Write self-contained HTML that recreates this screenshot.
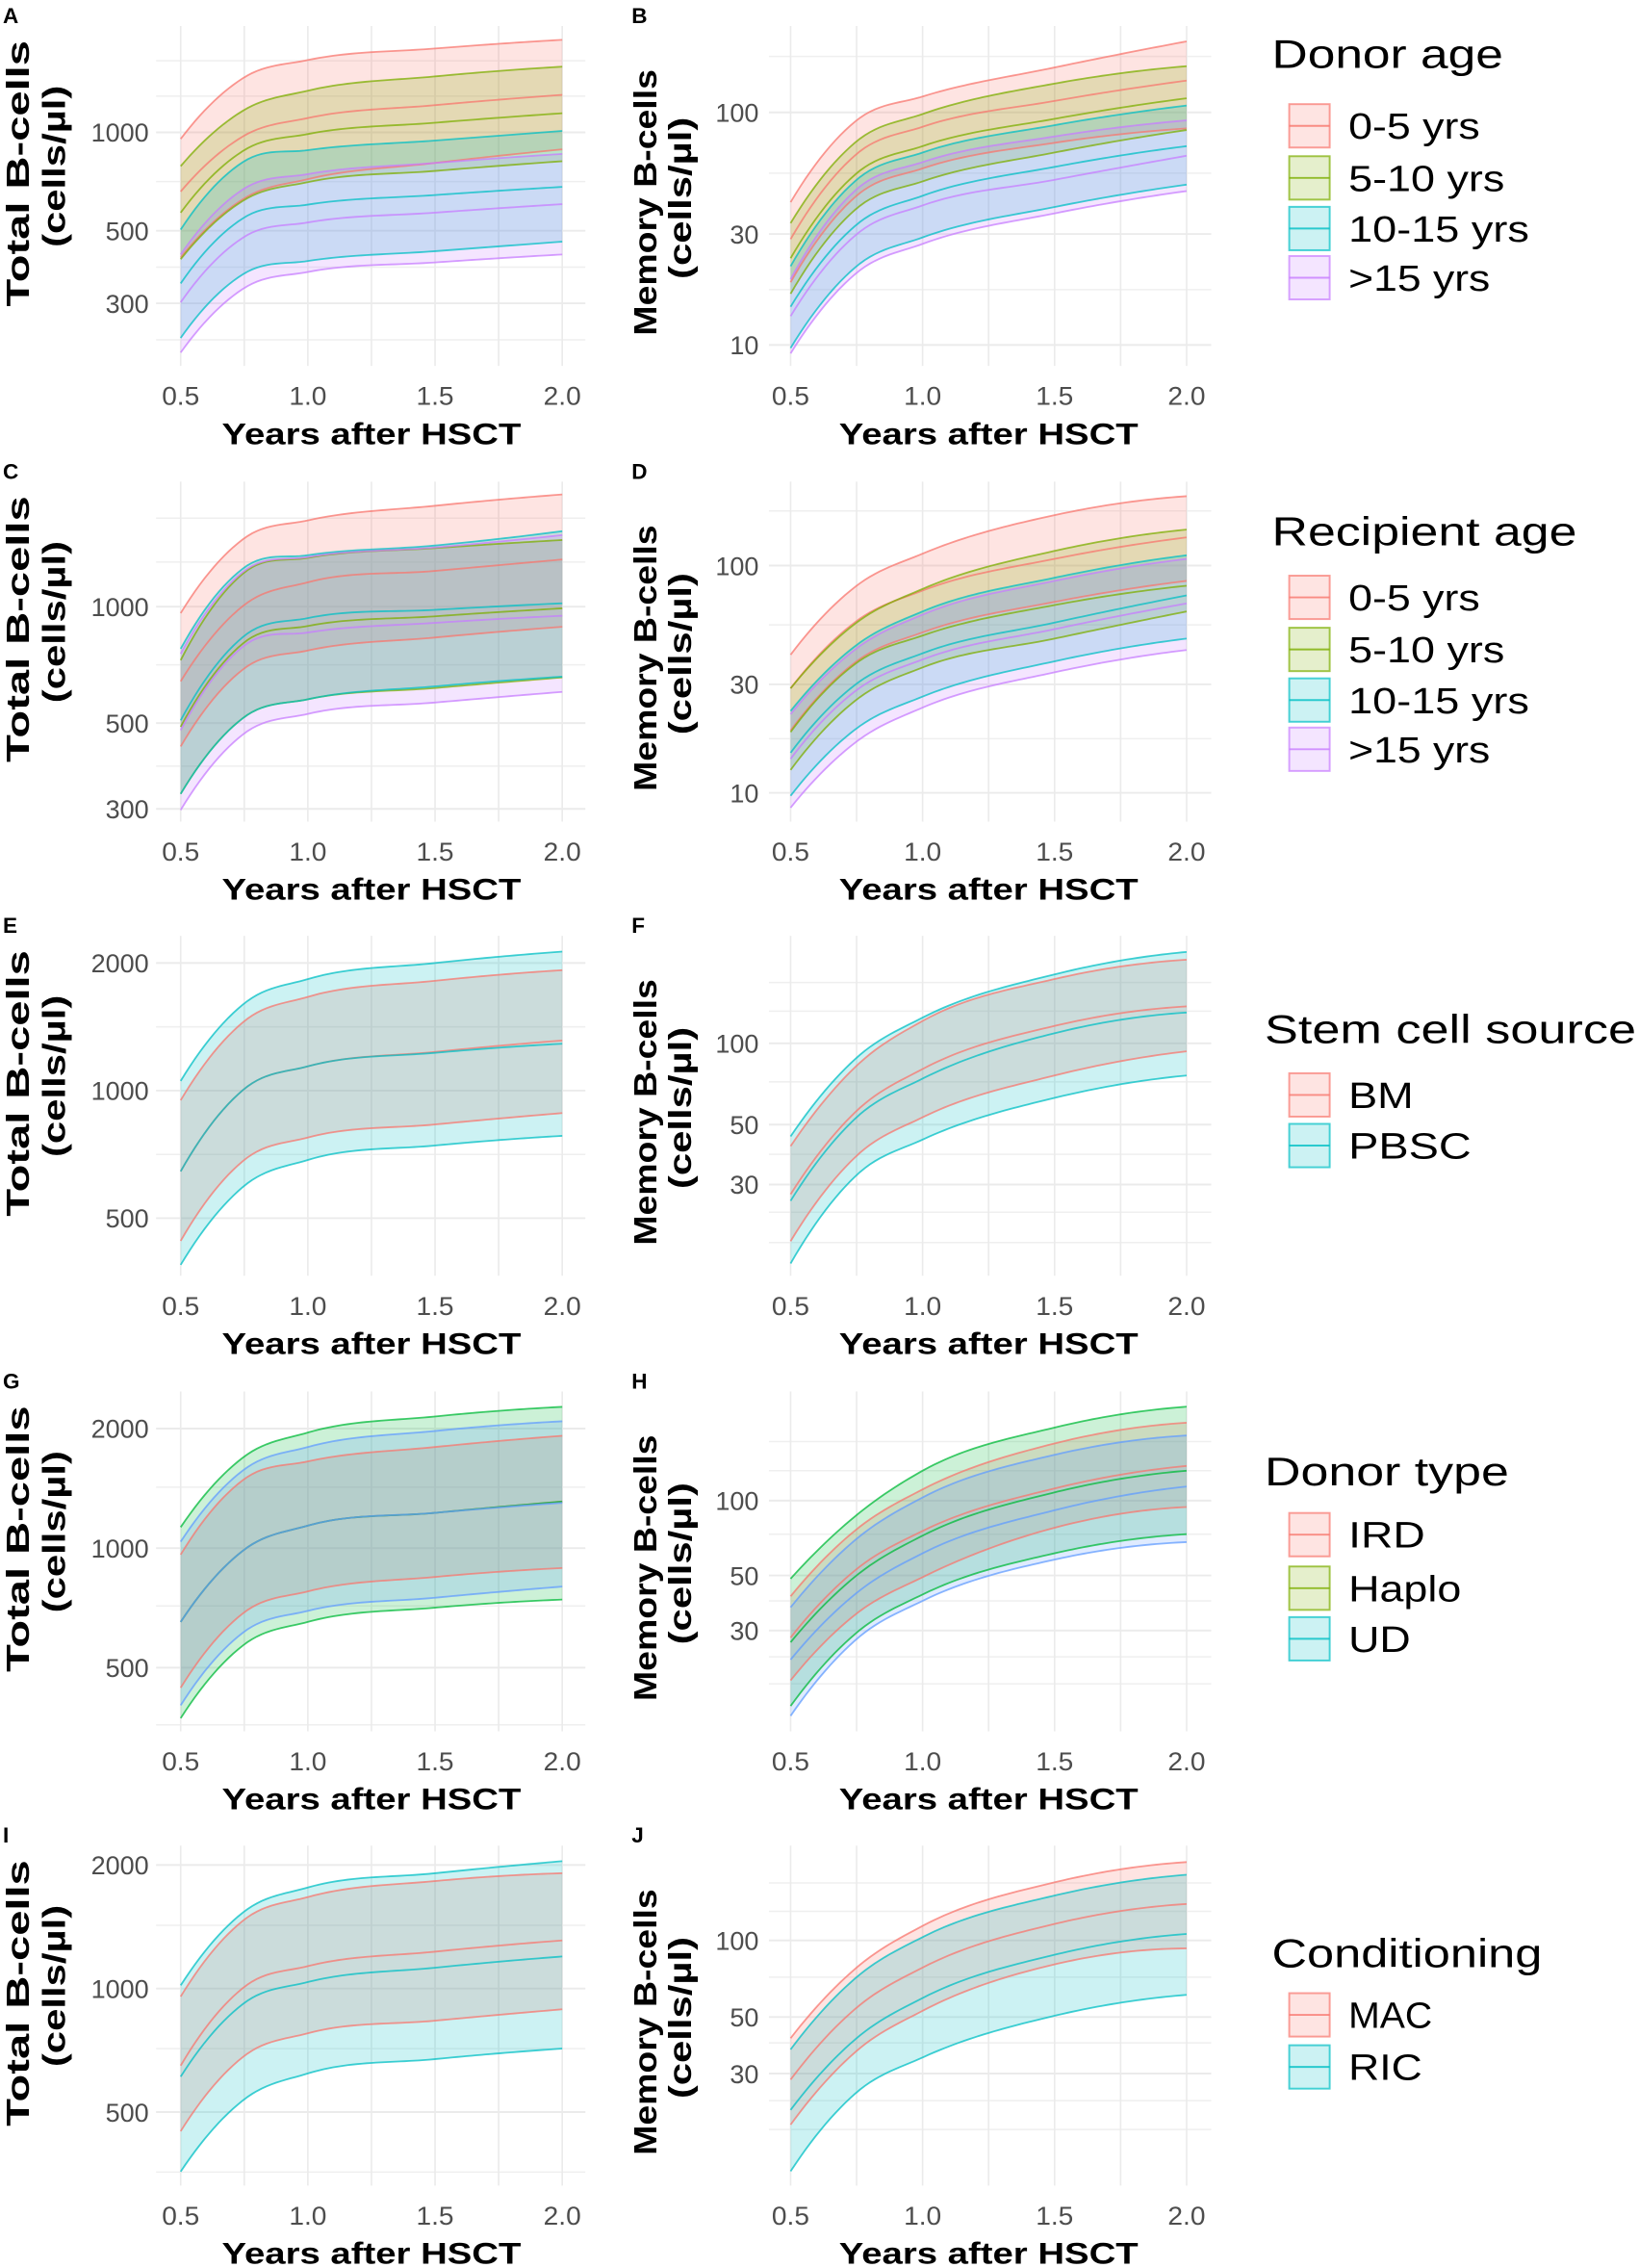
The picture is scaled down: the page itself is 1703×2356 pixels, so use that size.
<!DOCTYPE html>
<html>
<head>
<meta charset="utf-8">
<style>
  html,body{margin:0;padding:0;background:#fff;}
  svg{display:block;}
  text{font-family:"Liberation Sans",Arial,sans-serif;}
</style>
</head>
<body>
<svg id="fig" width="1703" height="2356" viewBox="0 0 1134 1568" preserveAspectRatio="none" xmlns="http://www.w3.org/2000/svg"></svg>
<script>
// ---------- shared data ----------
const years = [0.5, 0.75, 1.0, 1.5, 2.0];
const xTicks = [0.5, 1.0, 1.5, 2.0];
const xTickLabels = ["0.5", "1.0", "1.5", "2.0"];
const xGrid = [0.5, 0.75, 1.0, 1.25, 1.5, 1.75, 2.0];

// Panel A – Total B-cells by donor age
const A_05_up = [955, 1473, 1664, 1805, 1919];
const A_05_mid = [659, 977, 1106, 1211, 1302];
const A_05_lo = [414, 628, 719, 806, 887];
const A_510_up = [788, 1171, 1341, 1483, 1588];
const A_510_mid = [568, 882, 988, 1070, 1144];
const A_510_lo = [409, 621, 704, 762, 816];
const A_1015_up = [504, 816, 882, 944, 1010];
const A_1015_mid = [345, 549, 601, 643, 681];
const A_1015_lo = [235, 370, 404, 433, 463];
const A_15_up = [423, 673, 745, 806, 859];
const A_15_mid = [302, 479, 530, 568, 603];
const A_15_lo = [212, 334, 374, 400, 423];
const A_ticks = [300, 500, 1000];
const A_minor = [232, 387, 707, 1290, 1656];

// Panel B – Memory B-cells by donor age
const B_05_up = [41.1, 92.4, 117, 156, 202];
const B_05_mid = [28.5, 66.2, 86.7, 112, 137];
const B_05_lo = [18.6, 43.8, 57.4, 74, 85.3];
const B_510_up = [33.4, 75.1, 98.4, 133, 158];
const B_510_mid = [23.6, 54.7, 71.6, 93.8, 115];
const B_510_lo = [16.6, 38.6, 50.5, 67.2, 84];
const B_1015_up = [21.8, 51.3, 67.2, 88.1, 107];
const B_1015_mid = [14.6, 32.9, 43.8, 58.3, 71.6];
const B_1015_lo = [9.7, 21.8, 29, 39.2, 48.9];
const B_15_up = [19.2, 46.7, 61.1, 78.8, 92.4];
const B_15_mid = [13.3, 29.9, 39.8, 51.3, 65.1];
const B_15_lo = [9.2, 20.4, 27.2, 36.8, 45.9];
const B_ticks = [10, 30, 100];
const B_minor = [17.3, 54.8, 174];

// Panel C – Total B-cells by recipient age
const C_05_up = [962, 1502, 1671, 1823, 1950];
const C_05_mid = [641, 1010, 1156, 1237, 1324];
const C_05_lo = [435, 692, 770, 832, 887];
const C_510_up = [727, 1225, 1337, 1417, 1487];
const C_510_mid = [489, 808, 891, 944, 990];
const C_510_lo = [328, 518, 576, 616, 656];
const C_1015_up = [778, 1262, 1358, 1439, 1567];
const C_1015_mid = [508, 840, 934, 981, 1020];
const C_1015_lo = [328, 518, 576, 622, 659];
const C_15_up = [755, 1237, 1343, 1422, 1531];
const C_15_mid = [479, 793, 857, 908, 947];
const C_15_lo = [298, 470, 528, 565, 602];
const C_ticks = [300, 500, 1000];
const C_minor = [387, 707, 1304, 1694];

// Panel D – Memory B-cells by recipient age
const D_05_up = [40.5, 81.5, 112.8, 166.7, 202];
const D_05_mid = [28.8, 57, 77.6, 107, 133];
const D_05_lo = [18.8, 37.9, 50.8, 69.2, 85.6];
const D_510_up = [28.8, 56.1, 78.9, 116, 144];
const D_510_mid = [18.5, 37.3, 49.2, 67, 81.5];
const D_510_lo = [12.6, 25.7, 35.6, 47.7, 62.8];
const D_1015_up = [22.9, 44.7, 62.8, 88.4, 111];
const D_1015_mid = [15, 30.2, 41.1, 56.1, 73.9];
const D_1015_lo = [9.7, 19.2, 26.5, 37.9, 47.7];
const D_15_up = [22.2, 43.2, 60.8, 85.6, 107];
const D_15_mid = [14.1, 28.3, 38.6, 52.5, 68.1];
const D_15_lo = [8.6, 16.8, 23.7, 33.9, 42.5];
const D_ticks = [10, 30, 100];
const D_minor = [17.3, 54.8, 174];

// Panel E – Total B-cells by stem cell source
const E_BM_up = [949, 1458, 1664, 1816, 1924];
const E_BM_mid = [645, 1009, 1141, 1234, 1313];
const E_BM_lo = [442, 686, 775, 832, 885];
const E_PB_up = [1054, 1606, 1833, 2000, 2128];
const E_PB_mid = [645, 1009, 1141, 1228, 1290];
const E_PB_lo = [388, 596, 686, 742, 782];
const E_ticks = [500, 1000, 2000];
const E_minor = [707, 1414];

// Panel F – Memory B-cells by stem cell source
const F_BM_up = [41.6, 82.6, 121, 173, 204];
const F_BM_mid = [27.6, 56.2, 80.3, 116, 137];
const F_BM_lo = [18.5, 38.3, 53.2, 76, 93.4];
const F_PB_up = [45.2, 88.4, 124.5, 180, 218];
const F_PB_mid = [26.1, 53.2, 74, 109, 130];
const F_PB_lo = [15.3, 32.5, 44, 62.8, 76];
const F_ticks = [30, 50, 100];
const F_minor = [18.3, 23.7, 38.8, 72, 131.5, 168];

// Panel G – Total B-cells by donor type
const G_IRD_up = [963, 1492, 1653, 1797, 1918];
const G_IRD_mid = [652, 991, 1139, 1227, 1310];
const G_IRD_lo = [445, 689, 778, 846, 891];
const G_HAP_up = [1129, 1700, 1954, 2145, 2268];
const G_HAP_mid = [652, 991, 1139, 1227, 1310];
const G_HAP_lo = [373, 572, 652, 708, 742];
const G_UD_up = [1038, 1578, 1797, 1972, 2086];
const G_UD_mid = [652, 991, 1139, 1227, 1300];
const G_UD_lo = [402, 616, 695, 750, 800];
const G_ticks = [500, 1000, 2000];
const G_minor = [359, 715, 1424];

// Panel H – Memory B-cells by donor type
const H_IRD_up = [41.2, 76.7, 111, 170, 206];
const H_IRD_mid = [28.1, 53, 75.5, 112, 138];
const H_IRD_lo = [18.9, 35.1, 49.2, 77.8, 94.3];
const H_HAP_up = [48.5, 87.5, 132, 197, 239];
const H_HAP_mid = [26.9, 50, 72.3, 108, 132];
const H_HAP_lo = [14.9, 29.4, 41.9, 61.4, 73.3];
const H_UD_up = [37.2, 70.2, 103, 153, 183];
const H_UD_mid = [22.9, 42.5, 61.4, 91.5, 114];
const H_UD_lo = [13.6, 27.7, 39.5, 57.9, 68.1];
const H_ticks = [30, 50, 100];
const H_minor = [18.3, 23.5, 39.5, 73.3, 132, 173];

// Panel I – Total B-cells by conditioning
const I_MAC_up = [956, 1472, 1671, 1828, 1910];
const I_MAC_mid = [649, 1009, 1134, 1230, 1310];
const I_MAC_lo = [449, 685, 778, 835, 890];
const I_RIC_up = [1018, 1541, 1763, 1910, 2044];
const I_RIC_mid = [610, 922, 1037, 1124, 1197];
const I_RIC_lo = [358, 537, 621, 673, 714];
const I_ticks = [500, 1000, 2000];
const I_minor = [357, 714, 1426];

// Panel J – Memory B-cells by conditioning
const J_MAC_up = [41.3, 78.2, 114, 169, 203];
const J_MAC_mid = [28.4, 54.4, 78.2, 116, 139];
const J_MAC_lo = [18.9, 36.8, 52.9, 80.5, 93];
const J_RIC_up = [37.3, 71.7, 103, 150, 181];
const J_RIC_mid = [21.6, 41.3, 59.4, 87.8, 106];
const J_RIC_lo = [12.4, 25.3, 34.7, 50.6, 61.1];
const J_ticks = [30, 50, 100];
const J_minor = [18.1, 23.5, 39.6, 71.7, 130, 168];

// Legend categories
const donorAgeCats = ["0-5 yrs", "5-10 yrs", "10-15 yrs", ">15 yrs"];
const recipAgeCats = ["0-5 yrs", "5-10 yrs", "10-15 yrs", ">15 yrs"];
const sourceCats = ["BM", "PBSC"];
const donorTypeCats = ["IRD", "Haplo", "UD"];
const condCats = ["MAC", "RIC"];

// ---------- colours ----------
const C4 = ["#F8766D", "#7CAE00", "#00BFC4", "#C77CFF"];
const C2 = ["#F8766D", "#00BFC4"];
const C3 = ["#F8766D", "#00BA38", "#619CFF"];

const NS = "http://www.w3.org/2000/svg";
const svg = document.getElementById("fig");
function mk(tag, attrs, parent) {
  const e = document.createElementNS(NS, tag);
  for (const k in attrs) e.setAttribute(k, attrs[k]);
  (parent || svg).appendChild(e);
  return e;
}

// smooth cubic Hermite interpolation in log space (three-point end slopes)
function interp(xs, ys) {
  const n = xs.length, d = [], m = [];
  for (let i = 0; i < n - 1; i++) d.push((ys[i + 1] - ys[i]) / (xs[i + 1] - xs[i]));
  for (let i = 1; i < n - 1; i++) {
    const h0 = xs[i] - xs[i - 1], h1 = xs[i + 1] - xs[i];
    m[i] = d[i - 1] * d[i] <= 0 ? 0 : (h1 * d[i - 1] + h0 * d[i]) / (h0 + h1);
  }
  {
    const h0 = xs[1] - xs[0], h1 = xs[2] - xs[1];
    let s = ((2 * h0 + h1) * d[0] - h0 * d[1]) / (h0 + h1);
    if (s * d[0] <= 0) s = 0; else if (Math.abs(s) > 3 * Math.abs(d[0])) s = 3 * d[0];
    m[0] = s;
  }
  {
    const h0 = xs[n - 1] - xs[n - 2], h1 = xs[n - 2] - xs[n - 3];
    let s = ((2 * h0 + h1) * d[n - 2] - h0 * d[n - 3]) / (h0 + h1);
    if (s * d[n - 2] <= 0) s = 0; else if (Math.abs(s) > 3 * Math.abs(d[n - 2])) s = 3 * d[n - 2];
    m[n - 1] = s;
  }
  return function (x) {
    let i = 0;
    while (i < n - 2 && x > xs[i + 1]) i++;
    const h = xs[i + 1] - xs[i], t = (x - xs[i]) / h;
    const h00 = 2 * t * t * t - 3 * t * t + 1, h10 = t * t * t - 2 * t * t + t;
    const h01 = -2 * t * t * t + 3 * t * t, h11 = t * t * t - t * t;
    return h00 * ys[i] + h10 * h * m[i] + h01 * ys[i + 1] + h11 * h * m[i + 1];
  };
}
function curve(vals) {
  const f = interp(years, vals.map(v => Math.log10(v)));
  const pts = [];
  for (let k = 0; k <= 80; k++) {
    const x = 0.5 + 1.5 * k / 80;
    pts.push([x, Math.pow(10, f(x))]);
  }
  return pts;
}

// ---------- panels ----------
const rowTop = [0, 315, 629, 944, 1258];
const panels = [
  {id: "A", row: 0, side: "L", vref: 1000, yref: 91.5, ppd: 226, ticks: A_ticks, minor: A_minor, colors: C4,
   series: [[A_05_lo, A_05_mid, A_05_up], [A_510_lo, A_510_mid, A_510_up], [A_1015_lo, A_1015_mid, A_1015_up], [A_15_lo, A_15_mid, A_15_up]]},
  {id: "B", row: 0, side: "R", vref: 100, yref: 77.7, ppd: 160.8, ticks: B_ticks, minor: B_minor, colors: C4,
   series: [[B_05_lo, B_05_mid, B_05_up], [B_510_lo, B_510_mid, B_510_up], [B_1015_lo, B_1015_mid, B_1015_up], [B_15_lo, B_15_mid, B_15_up]]},
  {id: "C", row: 1, side: "L", vref: 1000, yref: 104.4, ppd: 267.4, ticks: C_ticks, minor: C_minor, colors: C4,
   series: [[C_05_lo, C_05_mid, C_05_up], [C_510_lo, C_510_mid, C_510_up], [C_1015_lo, C_1015_mid, C_1015_up], [C_15_lo, C_15_mid, C_15_up]]},
  {id: "D", row: 1, side: "R", vref: 100, yref: 76, ppd: 157.1, ticks: D_ticks, minor: D_minor, colors: C4,
   series: [[D_05_lo, D_05_mid, D_05_up], [D_510_lo, D_510_mid, D_510_up], [D_1015_lo, D_1015_mid, D_1015_up], [D_15_lo, D_15_mid, D_15_up]]},
  {id: "E", row: 2, side: "L", vref: 1000, yref: 125, ppd: 293, ticks: E_ticks, minor: E_minor, colors: C2,
   series: [[E_BM_lo, E_BM_mid, E_BM_up], [E_PB_lo, E_PB_mid, E_PB_up]]},
  {id: "F", row: 2, side: "R", vref: 100, yref: 92.3, ppd: 186.7, ticks: F_ticks, minor: F_minor, colors: C2,
   series: [[F_BM_lo, F_BM_mid, F_BM_up], [F_PB_lo, F_PB_mid, F_PB_up]]},
  {id: "G", row: 3, side: "L", vref: 1000, yref: 126.3, ppd: 274.6, ticks: G_ticks, minor: G_minor, colors: C3,
   series: [[G_IRD_lo, G_IRD_mid, G_IRD_up], [G_HAP_lo, G_HAP_mid, G_HAP_up], [G_UD_lo, G_UD_mid, G_UD_up]]},
  {id: "H", row: 3, side: "R", vref: 100, yref: 93.5, ppd: 171.7, ticks: H_ticks, minor: H_minor, colors: C3,
   series: [[H_IRD_lo, H_IRD_mid, H_IRD_up], [H_HAP_lo, H_HAP_mid, H_HAP_up], [H_UD_lo, H_UD_mid, H_UD_up]]},
  {id: "I", row: 4, side: "L", vref: 1000, yref: 116.8, ppd: 283.7, ticks: I_ticks, minor: I_minor, colors: C2,
   series: [[I_MAC_lo, I_MAC_mid, I_MAC_up], [I_RIC_lo, I_RIC_mid, I_RIC_up]]},
  {id: "J", row: 4, side: "R", vref: 100, yref: 83.5, ppd: 176.1, ticks: J_ticks, minor: J_minor, colors: C2,
   series: [[J_MAC_lo, J_MAC_mid, J_MAC_up], [J_RIC_lo, J_RIC_mid, J_RIC_up]]}
];

panels.forEach(p => {
  const T = rowTop[p.row];
  const L = p.side === "L";
  const x0 = L ? 125 : 547, x1 = L ? 389 : 821;
  const px0 = L ? 108 : 532, px1 = L ? 405 : 838;
  const py0 = T + 18, py1 = T + 253;
  const xs = v => x0 + (v - 0.5) / 1.5 * (x1 - x0);
  const ys = v => T + p.yref - (Math.log10(v) - Math.log10(p.vref)) * p.ppd;

  const g = mk("g", {});
  
  

  const clipId = "clip" + p.id;
  const cp = mk("clipPath", {id: clipId}, g);
  mk("rect", {x: px0, y: py0, width: px1 - px0, height: py1 - py0}, cp);

  // grid
  p.minor.forEach(v => {
    const y = ys(v);
    if (y < py0 || y > py1) return;
    const l = mk("line", {x1: px0, x2: px1, y1: y, y2: y, stroke: "#EFEFEF", "stroke-width": 1}, g);
    
    
  });
  p.ticks.forEach(v => {
    const y = ys(v);
    const l = mk("line", {x1: px0, x2: px1, y1: y, y2: y, stroke: "#EBEBEB", "stroke-width": 1.3}, g);
    
    
  });
  xGrid.forEach(v => {
    const x = xs(v);
    const l = mk("line", {x1: x, x2: x, y1: py0, y2: py1, stroke: "#EBEBEB", "stroke-width": 1.1}, g);
    
    
  });

  // ribbons
  const plot = mk("g", {"clip-path": "url(#" + clipId + ")"}, g);
  p.series.forEach((s, i) => {
    const lo = curve(s[0]), up = curve(s[2]);
    let d = "M" + up.map(q => xs(q[0]).toFixed(2) + "," + ys(q[1]).toFixed(2)).join("L");
    d += "L" + lo.slice().reverse().map(q => xs(q[0]).toFixed(2) + "," + ys(q[1]).toFixed(2)).join("L") + "Z";
    const r = mk("path", {d: d, fill: p.colors[i], "fill-opacity": 0.2, stroke: "none"}, plot);
    
    
  });
  p.series.forEach((s, i) => {
    s.forEach((arr, j) => {
      const c = curve(arr);
      const d = "M" + c.map(q => xs(q[0]).toFixed(2) + "," + ys(q[1]).toFixed(2)).join("L");
      const ln = mk("path", {d: d, fill: "none", stroke: p.colors[i], "stroke-opacity": 0.75, "stroke-width": 1.2}, plot);
      
      
    });
  });

  // y tick labels
  p.ticks.forEach(v => {
    const t = mk("text", {x: L ? 103 : 525, y: ys(v) + 6.5, "text-anchor": "end", "font-size": 18, fill: "#4D4D4D"}, g);
    t.textContent = String(v);
    
    
  });
  // x tick labels
  xTicks.forEach((v, k) => {
    const t = mk("text", {x: xs(v), y: T + 280, "text-anchor": "middle", "font-size": 18, fill: "#4D4D4D", textLength: 26, lengthAdjust: "spacingAndGlyphs"}, g);
    t.textContent = xTickLabels[k];
    
    
  });
  // x title
  const xt = mk("text", {x: (x0 + x1) / 2, y: T + 307, "text-anchor": "middle", "font-size": 21, "font-weight": "bold", fill: "#000", textLength: 207, lengthAdjust: "spacingAndGlyphs"}, g);
  xt.textContent = "Years after HSCT";
  
  
  // y title
  const cx1 = L ? 12 : 446, cx2 = L ? 37 : 470;
  const cy1 = T + (L ? 120 : 140), cy2 = T + (L ? 115 : 137);
  const yt1 = mk("text", {x: 0, y: 0, transform: "translate(" + (cx1 + 8) + "," + cy1 + ") rotate(-90)", "text-anchor": "middle", "font-size": 22, "font-weight": "bold", textLength: 184, lengthAdjust: "spacingAndGlyphs"}, g);
  yt1.textContent = L ? "Total B-cells" : "Memory B-cells";
  
  
  const yt2 = mk("text", {x: 0, y: 0, transform: "translate(" + (cx2 + 8) + "," + cy2 + ") rotate(-90)", "text-anchor": "middle", "font-size": 22, "font-weight": "bold", textLength: 112, lengthAdjust: "spacingAndGlyphs"}, g);
  yt2.textContent = "(cells/\u00B5l)";
  
  
  // panel letter
  const pl = mk("text", {x: L ? 2 : 437, y: T + 16, "font-size": 15, "font-weight": "bold"}, g);
  pl.textContent = p.id;
  
  
});

// ---------- legends ----------
const legends = [
  {title: "Donor age", tx: 880, ty: 47, tw: 160, cats: donorAgeCats, colors: C4, ys: [87, 123, 158, 192], lw: [91, 108, 125, 98]},
  {title: "Recipient age", tx: 880, ty: 377, tw: 211, cats: recipAgeCats, colors: C4, ys: [413, 449, 484, 518], lw: [91, 108, 125, 98]},
  {title: "Stem cell source", tx: 875, ty: 721, tw: 257, cats: sourceCats, colors: C2, ys: [757, 792], lw: [45, 85]},
  {title: "Donor type", tx: 875, ty: 1027, tw: 169, cats: donorTypeCats, colors: ["#F8766D", "#7CAE00", "#00BFC4"], ys: [1061, 1098, 1133], lw: [53, 78, 43]},
  {title: "Conditioning", tx: 880, ty: 1360, tw: 187, cats: condCats, colors: C2, ys: [1393, 1429], lw: [58, 51]}
];
legends.forEach(lg => {
  const g = mk("g", {});
  
  
  const t = mk("text", {x: lg.tx, y: lg.ty, "font-size": 28, fill: "#000", textLength: lg.tw, lengthAdjust: "spacingAndGlyphs"}, g);
  t.textContent = lg.title;
  
  
  lg.cats.forEach((c, i) => {
    const y = lg.ys[i];
    const r = mk("rect", {x: 892, y: y - 15, width: 28, height: 30, fill: lg.colors[i], "fill-opacity": 0.2, stroke: lg.colors[i], "stroke-opacity": 0.7, "stroke-width": 1.3}, g);
    
    
    const l = mk("line", {x1: 892, x2: 920, y1: y, y2: y, stroke: lg.colors[i], "stroke-opacity": 0.8, "stroke-width": 1.3}, g);
    
    
    const tx = mk("text", {x: 933, y: y + 9, "font-size": 25, fill: "#000", textLength: lg.lw[i], lengthAdjust: "spacingAndGlyphs"}, g);
    tx.textContent = c;
    
    
  });
});
</script>
</body>
</html>
